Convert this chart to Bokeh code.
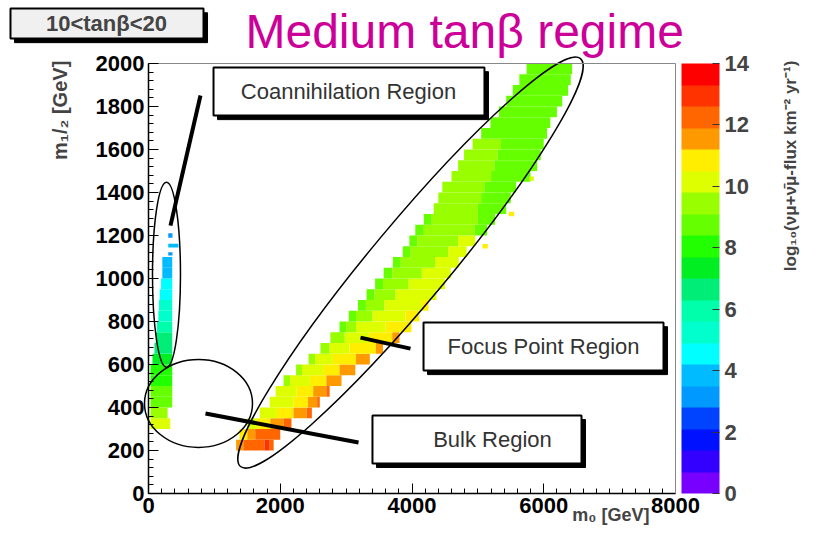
import numpy as np
from bokeh.plotting import figure
from bokeh.models import (LinearColorMapper, ColorBar, FixedTicker, SingleIntervalTicker,
                          Label, Range1d, ColumnDataSource, LinearAxis)
from bokeh.transform import transform
from bokeh.embed import file_html
from bokeh.resources import INLINE

# ---------------- data ----------------
palette = ["#7700FF", "#3300FF", "#0011FF", "#0044FF", "#0099FF", "#00BBFF",
           "#00FFFF", "#00FFCC", "#00FFAA", "#00EE77", "#00EE22", "#22FF00",
           "#66FF00", "#99FF00", "#DDFF00", "#FFEE00", "#FF9900", "#FF6600",
           "#FF3300", "#FF0000"]
flux_low, flux_high = 0, 14
colorbar_ticks = [0, 2, 4, 6, 8, 10, 12, 14]
m0_min, m0_max = 0, 8000
m12_min, m12_max = 0, 2000

row_height = 50  # m_1/2 bin height [GeV]

# focus point band: bottom of each m_1/2 row and its (m0 start, m0 end, log10 flux) segments
focus_row_m12 = [200, 250, 300, 350, 400, 450, 500, 550, 600, 650, 700, 750, 800, 850,
                 900, 950, 1000, 1050, 1100, 1150, 1200, 1250, 1300, 1350, 1400, 1450,
                 1500, 1550, 1600, 1650, 1700, 1750, 1800, 1850, 1900, 1950]
focus_row_segments = [
    [(1330, 1440, 11.6), (1440, 1760, 12.3), (1760, 1840, 13.0), (1840, 1900, 12.3)],
    [(1380, 1500, 10.9), (1500, 1620, 11.6), (1620, 2000, 12.3)],
    [(1500, 1650, 10.2), (1650, 1850, 10.9), (1850, 2050, 11.6), (2050, 2170, 12.3)],
    [(1690, 1950, 10.2), (1950, 2200, 10.9), (2200, 2400, 11.6), (2400, 2480, 12.3)],
    [(1840, 2200, 10.2), (2200, 2420, 10.9), (2420, 2560, 11.6), (2560, 2600, 12.3)],
    [(1930, 2250, 10.2), (2250, 2500, 10.9), (2500, 2700, 11.6), (2700, 2750, 12.3)],
    [(2050, 2150, 9.5), (2150, 2450, 10.2), (2450, 2700, 10.9), (2700, 2930, 11.6)],
    [(2240, 2330, 9.5), (2330, 2650, 10.2), (2650, 2900, 10.9), (2900, 3140, 11.6)],
    [(2430, 2530, 9.5), (2530, 2800, 10.2), (2800, 3150, 10.9), (3150, 3360, 11.6)],
    [(2610, 2750, 9.5), (2750, 3050, 10.2), (3050, 3450, 10.9), (3450, 3560, 11.6)],
    [(2760, 2980, 9.5), (2980, 3350, 10.2), (3350, 3700, 10.9), (3700, 3810, 11.6)],
    [(2900, 3000, 8.8), (3000, 3150, 9.5), (3150, 3600, 10.2), (3600, 3990, 10.9)],
    [(3040, 3150, 8.8), (3150, 3400, 9.5), (3400, 3900, 10.2), (3900, 4110, 10.9)],
    [(3180, 3300, 8.8), (3300, 3580, 9.5), (3580, 4150, 10.2), (4150, 4250, 10.9)],
    [(3310, 3430, 8.8), (3430, 3750, 9.5), (3750, 4370, 10.2)],
    [(3440, 3560, 8.8), (3560, 3950, 9.5), (3950, 4500, 10.2)],
    [(3570, 3700, 8.8), (3700, 4150, 9.5), (4150, 4590, 10.2)],
    [(3710, 3830, 8.8), (3830, 4350, 9.5), (4350, 4710, 10.2)],
    [(3860, 3980, 8.8), (3980, 4550, 9.5), (4550, 4830, 10.2)],
    [(3960, 4080, 8.8), (4080, 4700, 9.5), (4700, 4960, 10.2)],
    [(4050, 4180, 8.8), (4180, 4950, 9.5), (4950, 5140, 8.8)],
    [(4180, 4300, 8.8), (4300, 5000, 9.5), (5000, 5260, 8.8)],
    [(4330, 5000, 9.5), (5000, 5430, 8.8)],
    [(4400, 5050, 9.5), (5050, 5500, 8.8)],
    [(4460, 5100, 9.5), (5100, 5580, 8.8)],
    [(4600, 5200, 9.5), (5200, 5800, 8.8)],
    [(4700, 5250, 9.5), (5250, 5900, 8.8)],
    [(4790, 5300, 9.5), (5300, 5955, 8.8)],
    [(4920, 5350, 9.5), (5350, 6000, 8.8)],
    [(5050, 6050, 8.8)],
    [(5190, 6100, 8.8)],
    [(5320, 6200, 8.8)],
    [(5430, 6280, 8.8)],
    [(5530, 6370, 8.8)],
    [(5630, 6410, 8.8)],
    [(5740, 6430, 8.8)],
]

# coannihilation strip rows (bottom m_1/2, m0 start, m0 end, log10 flux)
coann_row_m12 = [300, 350, 400, 450, 500, 550, 600, 650, 700, 750, 800, 850, 900, 950, 1000, 1050]
coann_m0_start = [30, 30, 30, 30, 30, 30, 60, 90, 110, 130, 150, 160, 170, 190, 210, 210]
coann_m0_end = [330, 290, 360, 360, 360, 360, 360, 360, 360, 360, 360, 360, 360, 360, 360, 360]
coann_flux = [10.2, 9.5, 8.8, 8.8, 8.1, 8.1, 7.4, 6.7, 6.7, 6.0, 5.3, 5.3, 4.6, 4.6, 3.9, 3.9]

# isolated points (m0 start, m0 end, m_1/2 start, m_1/2 end, log10 flux)
stray_m0_start = [300, 300, 300, 5470, 5070, 5780]
stray_m0_end = [364, 455, 364, 5550, 5150, 5850]
stray_m12_start = [1190, 1144, 1107, 1290, 1140, 1455]
stray_m12_end = [1210, 1162, 1122, 1310, 1160, 1475]
stray_flux = [3.2, 3.9, 3.2, 10.9, 10.9, 10.2]

# region annotations (data units)
region_names = ["Coannihilation Region", "Focus Point Region", "Bulk Region"]
region_box_left = [987, 4175, 3400]
region_box_right = [5100, 7818, 6573]
region_box_bottom = [1758, 572, 140]
region_box_top = [1981, 795, 363]
region_text_x = [3036, 5996, 5222]
region_text_y = [1869, 684, 251]
pointer_x0 = [789, 3218, 865]
pointer_y0 = [1851, 725, 372]
pointer_x1 = [334, 3977, 3188]
pointer_y1 = [1246, 674, 237]
ellipse_x = [3977, 759, 273]
ellipse_y = [1074, 419, 1018]
ellipse_w_px = [531, 108, 28]
ellipse_h_px = [78, 88, 185]
ellipse_angle = [0.876, 0.0, 0.0]

# ---------------- build cells ----------------
cl, cr, cbt, ctp, cv = [], [], [], [], []
for y0, segs in zip(focus_row_m12, focus_row_segments):
    for a, b, v in segs:
        cl.append(a); cr.append(b); cbt.append(y0); ctp.append(y0 + row_height); cv.append(v)
for y0, a, b, v in zip(coann_row_m12, coann_m0_start, coann_m0_end, coann_flux):
    cl.append(a); cr.append(b); cbt.append(y0); ctp.append(y0 + row_height); cv.append(v)
for a, b, y0, y1, v in zip(stray_m0_start, stray_m0_end, stray_m12_start, stray_m12_end, stray_flux):
    cl.append(a); cr.append(b); cbt.append(y0); ctp.append(y1); cv.append(v)
cells = ColumnDataSource(dict(left=cl, right=cr, bottom=cbt, top=ctp, flux=cv))

mapper = LinearColorMapper(palette=palette, low=flux_low, high=flux_high)

FONT = "Liberation Sans"

# ---------------- layout: frame covers the canvas, axes are pinned at 0 ----------------
W, H = 802, 525
AX_LEFT, AX_RIGHT, AX_TOP, AX_BOTTOM = 148, 675, 63, 493   # pixel position of the axis box
sx = (AX_RIGHT - AX_LEFT) / (m0_max - m0_min)
sy = (AX_BOTTOM - AX_TOP) / (m12_max - m12_min)
x_start = m0_min - AX_LEFT / sx
x_end = x_start + W / sx
y_start = m12_min - (H - AX_BOTTOM) / sy
y_end = y_start + H / sy

p = figure(width=W, height=H, x_range=Range1d(x_start, x_end), y_range=Range1d(y_start, y_end),
           output_backend="svg", toolbar_location=None,
           min_border=0, min_border_left=0, min_border_right=0, min_border_top=0, min_border_bottom=0)
p.grid.visible = False
p.outline_line_color = None
p.background_fill_color = "white"
p.border_fill_color = "white"

p.quad(left="left", right="right", bottom="bottom", top="top", source=cells,
       fill_color=transform("flux", mapper), line_color=None)

# text boxes with shadow
p.quad(left=[l + 61 for l in region_box_left], right=[r + 61 for r in region_box_right],
       bottom=[b - 19 for b in region_box_bottom], top=[t - 19 for t in region_box_top],
       fill_color="black", line_color="black")
p.quad(left=region_box_left, right=region_box_right, bottom=region_box_bottom, top=region_box_top,
       fill_color="white", line_color="black", line_width=2)
for name, tx, ty in zip(region_names, region_text_x, region_text_y):
    p.add_layout(Label(x=tx, y=ty, text=name, text_align="center", text_baseline="middle",
                       text_font=FONT, text_font_size="22px", text_color="#333333"))

p.ellipse(x=ellipse_x, y=ellipse_y, width=ellipse_w_px, height=ellipse_h_px, angle=ellipse_angle,
          width_units="screen", height_units="screen",
          fill_color=None, line_color="black", line_width=1.5)
p.segment(x0=pointer_x0, y0=pointer_y0, x1=pointer_x1, y1=pointer_y1,
          line_color="black", line_width=4)

# axes
p.xaxis.ticker = SingleIntervalTicker(interval=2000, num_minor_ticks=10)
p.yaxis.ticker = SingleIntervalTicker(interval=200, num_minor_ticks=5)
p.xaxis.fixed_location = m12_min
p.yaxis.fixed_location = m0_min
p.xaxis.bounds = (m0_min, m0_max)
p.yaxis.bounds = (m12_min, m12_max)
for ax in (p.xaxis[0], p.yaxis[0]):
    ax.major_tick_in = 10
    ax.major_tick_out = 0
    ax.minor_tick_in = 5
    ax.minor_tick_out = 0
    ax.axis_line_width = 1.5
    ax.axis_line_color = "black"
    ax.major_tick_line_color = "black"
    ax.minor_tick_line_color = "black"
    ax.major_label_text_font = FONT
    ax.major_label_text_font_style = "bold"
    ax.major_label_text_font_size = "22px"
    ax.major_label_text_color = "black"
    ax.major_label_standoff = 4

# grey top / right frame lines
top_ax = LinearAxis(fixed_location=m12_max, bounds=(m0_min, m0_max), ticker=FixedTicker(ticks=[]),
                    axis_line_color="#888888", axis_line_width=1,
                    major_tick_line_color=None, minor_tick_line_color=None)
right_ax = LinearAxis(fixed_location=m0_max, bounds=(m12_min, m12_max), ticker=FixedTicker(ticks=[]),
                      axis_line_color="#888888", axis_line_width=1,
                      major_tick_line_color=None, minor_tick_line_color=None)
p.add_layout(top_ax, "above")
p.add_layout(right_ax, "right")

p.add_layout(Label(x=7605, y=-102, text="m₀ [GeV]", text_align="right", text_baseline="middle",
                   text_font=FONT, text_font_style="bold", text_font_size="18px"))
p.add_layout(Label(x=-1351, y=2013, text="m₁/₂ [GeV]", text_align="right", text_baseline="middle",
                   angle=np.pi / 2, text_font=FONT, text_font_style="bold", text_font_size="20px"))

# colour bar (screen position inside the canvas)
cbar = ColorBar(color_mapper=mapper, ticker=FixedTicker(ticks=colorbar_ticks),
                width=38, height=AX_BOTTOM - AX_TOP, padding=0, margin=0,
                location=(AX_RIGHT + 6, H - AX_BOTTOM),
                major_label_text_font=FONT, major_label_text_font_style="bold",
                major_label_text_font_size="22px", major_tick_in=7, major_tick_out=0,
                major_tick_line_color="#333333", minor_tick_line_color=None,
                bar_line_color=None, background_fill_alpha=0, border_line_color=None,
                label_standoff=5)
p.add_layout(cbar, "center")
p.add_layout(Label(x=9746, y=2013, text="log₁₀(νμ+ν̄μ-flux km⁻² yr⁻¹)", text_align="right",
                   text_baseline="middle", angle=np.pi / 2, text_font=FONT,
                   text_font_style="bold", text_font_size="17px"))

# title and tanβ box
p.add_layout(Label(x=1472, y=2149, text="Medium tanβ regime", text_align="left",
                   text_baseline="middle", text_font=FONT, text_font_size="48px",
                   text_color="#CC0099"))
p.quad(left=[-2034], right=[896], bottom=[2097], top=[2236], fill_color="black", line_color="black")
p.quad(left=[-2095], right=[835], bottom=[2116], top=[2256], fill_color="#F0F0F0",
       line_color="black", line_width=2)
p.add_layout(Label(x=-638, y=2186, text="10<tanβ<20", text_align="center", text_baseline="middle",
                   text_font=FONT, text_font_style="bold", text_font_size="22px"))

open("out.html", "w").write(file_html(p, INLINE))
